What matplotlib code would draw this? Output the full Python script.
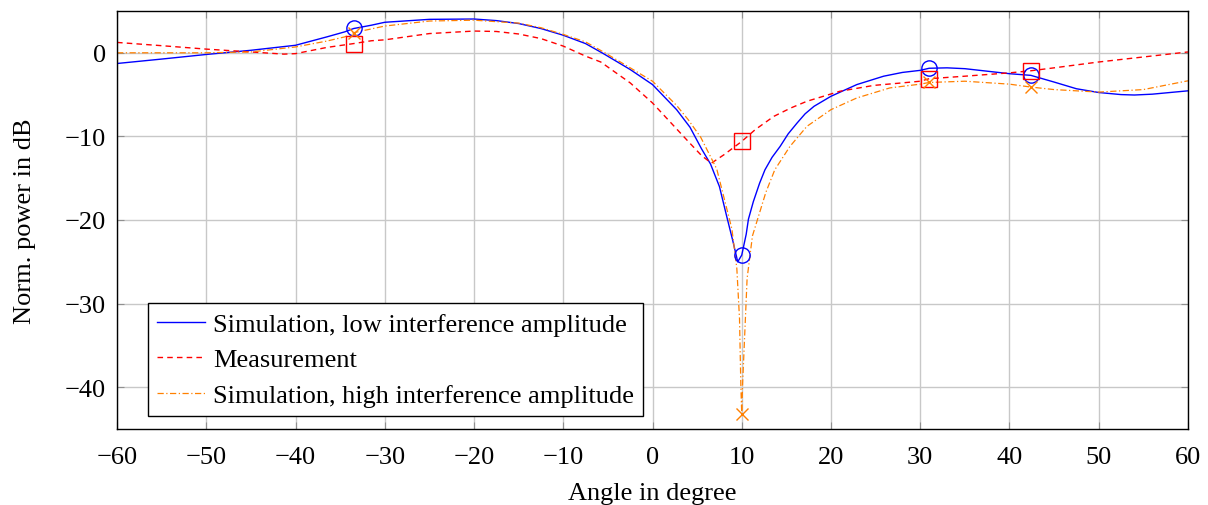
import numpy as np
import matplotlib
matplotlib.use("Agg")
import matplotlib.pyplot as plt

# beam pattern: simulated (low / high interference) vs measured
x_low = [-60, -55, -50, -45, -40, -36.5, -34.5, -33.5, -31.5, -30, -25, -20, -17.5, -15,
         -12.5, -10, -7.5, -5.5, -2.5, 0, 2.7, 4.2, 5.5, 6.5, 7.5, 8.3, 9, 9.55, 10,
         10.5, 10.75, 11.3, 12.0, 12.6, 13.4, 14.3, 15.2, 16.2, 17.1, 18.1, 20, 22.9,
         25.9, 28, 30, 31, 33, 35, 37.5, 40, 42.4, 45, 47.5, 50, 52.5, 54, 56, 58, 60]
y_low = [-1.28, -0.75, -0.2, 0.3, 0.9, 1.9, 2.5, 2.9, 3.3, 3.65, 4.0, 4.04, 3.85, 3.5,
         2.9, 2.1, 1.1, -0.1, -2.0, -3.8, -6.8, -8.9, -11.5, -13.3, -16.0, -19.5, -22.5,
         -25.0, -24.2, -21.7, -19.9, -17.8, -15.6, -14.0, -12.5, -11.2, -9.7, -8.4, -7.3,
         -6.4, -5.2, -3.8, -2.8, -2.35, -2.1, -1.85, -1.8, -1.9, -2.2, -2.5, -2.7, -3.5,
         -4.3, -4.75, -5.0, -5.05, -4.95, -4.75, -4.55]

x_meas = [-60, -55, -50, -45, -41.3, -40, -36.5, -33.5, -31.5, -30, -25, -20, -17.5,
          -15, -12.5, -10, -7.5, -5.8, -2.5, 0, 2, 4, 5.5, 6.6, 8, 10, 11.5, 13.6,
          15.5, 17.3, 21, 24.8, 28, 30, 31, 35, 40, 42.4, 45, 50, 55, 60]
y_meas = [1.24, 0.85, 0.44, 0.1, -0.16, -0.1, 0.64, 1.1, 1.44, 1.55, 2.3, 2.6, 2.55,
          2.25, 1.7, 0.8, -0.4, -1.1, -3.6, -6.0, -8.3, -10.6, -12.3, -13.2, -12.2,
          -10.6, -9.2, -7.6, -6.6, -5.8, -4.6, -3.9, -3.6, -3.4, -3.1, -2.8, -2.4,
          -2.15, -1.8, -1.1, -0.5, 0.1]

x_high = [-60, -55, -50, -45, -40, -36.5, -34.5, -33.5, -30, -25, -20, -15, -12.5, -10,
          -7.5, -5.5, -2.5, 0, 2.7, 4.0, 5.4, 7.2, 8.9, 9.45, 9.75, 9.9, 10, 10.1,
          10.25, 10.6, 11.2, 12.7, 13.7, 15.4, 17.3, 20, 22.9, 26.6, 30, 31, 35, 40,
          42.4, 45, 50, 55, 60]
y_high = [0.0, 0.0, 0.0, 0.1, 0.7, 1.4, 1.9, 2.4, 3.2, 3.8, 3.9, 3.55, 3.0, 2.2, 1.3,
          0.1, -1.8, -3.4, -6.3, -8.0, -10.1, -13.9, -21.1, -25.8, -31.8, -39.8, -43.2,
          -39.5, -35.8, -27.0, -21.9, -16.7, -14.0, -11.2, -8.8, -6.8, -5.4, -4.2,
          -3.75, -3.55, -3.4, -3.75, -4.1, -4.4, -4.7, -4.4, -3.35]

# marker positions
x_mark = [-33.5, 10, 31, 42.4]
y_mark_low = [2.95, -24.2, -1.85, -2.65]
y_mark_meas = [1.1, -10.6, -3.1, -2.15]
y_mark_high = [2.4, -43.2, -3.5, -4.15]

plt.rcParams['font.family'] = ['Liberation Serif', 'DejaVu Serif']
plt.rcParams['font.size'] = 19

fig = plt.figure(figsize=(12.08, 5.06), dpi=100)
ax = fig.add_axes([0.0969, 0.1502, 0.8865, 0.8261])

blue = '#0000FF'
red = '#FF0000'
orange = '#FF8000'

ax.plot(x_low, y_low, color=blue, lw=1.0, label='Simulation, low interference amplitude')
ax.plot(x_meas, y_meas, color=red, lw=1.0, linestyle=(0, (4, 3)), label='Measurement')
ax.plot(x_high, y_high, color=orange, lw=0.9, linestyle=(0, (5, 2, 1, 2)),
        label='Simulation, high interference amplitude')

ax.plot(x_mark, y_mark_low, linestyle='none', marker='o', ms=11, mfc='none', mec=blue, mew=1.0)
ax.plot(x_mark, y_mark_meas, linestyle='none', marker='s', ms=11, mfc='none', mec=red, mew=1.0)
ax.plot(x_mark, y_mark_high, linestyle='none', marker='x', ms=9, color=orange, mew=1.0)

ax.set_xlim(-60, 60)
ax.set_ylim(-45, 5)
ax.set_xticks(np.arange(-60, 61, 10))
ax.set_yticks([-40, -30, -20, -10, 0])
ax.grid(True, color='#c8c8c8', lw=1.0)
ax.set_axisbelow(True)
ax.tick_params(direction='in', top=True, right=True, color='#909090', length=5,
               labelsize=19)
ax.tick_params(axis='x', pad=12)
ax.tick_params(axis='y', pad=8)
for s in ax.spines.values():
    s.set_linewidth(1.0)

ax.set_xlabel('Angle in degree', fontsize=19, labelpad=10)
ax.set_ylabel('Norm. power in dB', fontsize=19, labelpad=21)

leg = ax.legend(loc='lower left', bbox_to_anchor=(0.029, 0.031), borderaxespad=0,
                fontsize=19, frameon=True, fancybox=False, framealpha=1,
                edgecolor='black', handlelength=1.8, borderpad=0.35,
                labelspacing=0.45, handletextpad=0.3)
leg.get_frame().set_linewidth(1.0)

plt.savefig('out.png', dpi=100)
